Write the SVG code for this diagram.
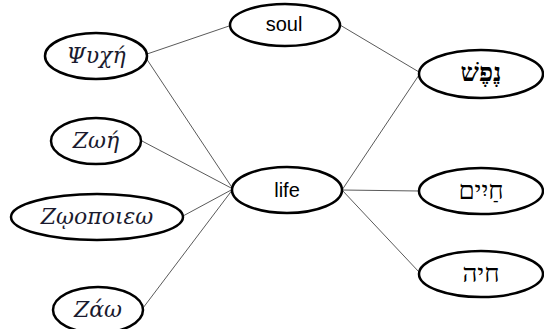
<svg xmlns="http://www.w3.org/2000/svg" width="544" height="329" viewBox="0 0 544 329">
  <style>
    .node ellipse { fill: #ffffff; stroke: #000000; stroke-width: 2.5; }
    .edges line { stroke: #5a5a5a; stroke-width: 1; }
    .greek { font-family: "DejaVu Serif", "Liberation Serif", serif; font-style: italic; font-size: 22px; fill: #1a1a2e; text-anchor: middle; }
    .eng { font-family: "Liberation Sans", Arial, sans-serif; font-size: 20px; fill: #000000; text-anchor: middle; }
    .heb { font-family: "Liberation Serif", "DejaVu Serif", serif; font-size: 26px; fill: #000000; text-anchor: middle; }
  </style>
  <rect width="544" height="329" fill="#ffffff"/>

  <g class="edges">
    <line x1="147" y1="54" x2="232" y2="25"/>
    <line x1="146" y1="58" x2="233" y2="189"/>
    <line x1="142" y1="141" x2="233" y2="189"/>
    <line x1="183" y1="216" x2="233" y2="189"/>
    <line x1="143" y1="308" x2="233" y2="189"/>
    <line x1="340" y1="25" x2="419" y2="72"/>
    <line x1="419" y1="75" x2="342" y2="190"/>
    <line x1="342" y1="190" x2="419" y2="191"/>
    <line x1="342" y1="190" x2="419" y2="272"/>
  </g>

  <g id="psyche" class="node">
    <ellipse cx="96" cy="56" rx="51" ry="23"/>
    <text class="greek" x="96" y="63">Ψυχή</text>
  </g>
  <g id="zoe" class="node">
    <ellipse cx="96" cy="141" rx="45" ry="23"/>
    <text class="greek" x="96" y="148">Ζωή</text>
  </g>
  <g id="zoopoieo" class="node">
    <ellipse cx="97" cy="217" rx="86" ry="23"/>
    <text class="greek" x="97" y="224">Ζῳοποιεω</text>
  </g>
  <g id="zao" class="node">
    <ellipse cx="98" cy="310" rx="45" ry="23"/>
    <text class="greek" x="98" y="317">Ζάω</text>
  </g>

  <g id="soul" class="node">
    <ellipse cx="285" cy="25" rx="55" ry="21"/>
    <text class="eng" x="284" y="31">soul</text>
  </g>
  <g id="life" class="node">
    <ellipse cx="287" cy="190" rx="55" ry="23"/>
    <text class="eng" x="287" y="197">life</text>
  </g>

  <g id="nephesh" class="node">
    <ellipse cx="481" cy="74" rx="62" ry="24"/>
    <text class="heb" x="481" y="81" font-weight="bold" font-size="24">נֶפֶשׁ</text>
  </g>
  <g id="chayim" class="node">
    <ellipse cx="481" cy="191" rx="62" ry="23"/>
    <text class="heb" x="481" y="199">חַיִים</text>
  </g>
  <g id="chayah" class="node">
    <ellipse cx="481" cy="274" rx="62" ry="23"/>
    <text class="heb" x="481" y="282">חיה</text>
  </g>
</svg>
